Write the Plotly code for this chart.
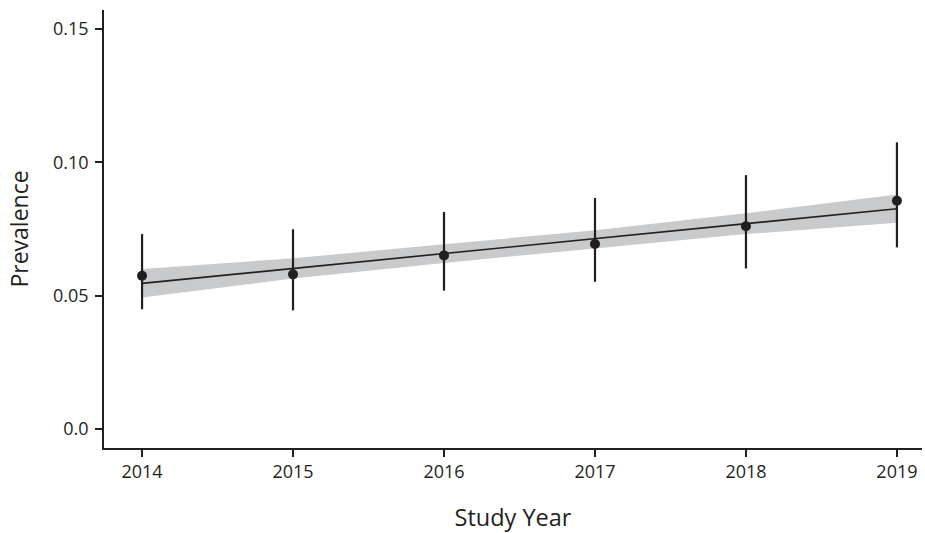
import plotly.graph_objects as go

years = [2014, 2015, 2016, 2017, 2018, 2019]
prevalence = [0.0575, 0.0580, 0.0651, 0.0694, 0.0760, 0.0856]
ci_upper = [0.0731, 0.0749, 0.0814, 0.0866, 0.0952, 0.1075]
ci_lower = [0.0449, 0.0445, 0.0519, 0.0552, 0.0602, 0.0681]
fit_line = [0.0546, 0.0602, 0.0658, 0.0714, 0.0770, 0.0826]
band_upper = [0.0600, 0.0640, 0.0693, 0.0745, 0.0809, 0.0879]
band_lower = [0.0493, 0.0564, 0.0623, 0.0676, 0.0731, 0.0773]
y_ticks = [0.0, 0.05, 0.10, 0.15]
y_tick_labels = ["0.0", "0.05", "0.10", "0.15"]

ink = "#231f20"
font = "Open Sans"

fig = go.Figure()
fig.add_trace(go.Scatter(x=years, y=band_lower, mode="lines", line=dict(width=0),
                         hoverinfo="skip", showlegend=False))
fig.add_trace(go.Scatter(x=years, y=band_upper, mode="lines", line=dict(width=0),
                         fill="tonexty", fillcolor="#c9cacb", hoverinfo="skip", showlegend=False))
fig.add_trace(go.Scatter(x=years, y=fit_line, mode="lines", line=dict(color=ink, width=1.6),
                         showlegend=False))
fig.add_trace(go.Scatter(
    x=years, y=prevalence, mode="markers",
    marker=dict(color=ink, size=10),
    error_y=dict(type="data", symmetric=False,
                 array=[u - p for u, p in zip(ci_upper, prevalence)],
                 arrayminus=[p - l for p, l in zip(prevalence, ci_lower)],
                 color=ink, thickness=2.2, width=0),
    showlegend=False))

fig.update_layout(
    width=925, height=533,
    margin=dict(l=104, r=3, t=10, b=85),
    paper_bgcolor="white", plot_bgcolor="white",
    font=dict(family=font, color=ink, size=18),
    xaxis=dict(range=[2013.748, 2019.166], tickvals=years, ticktext=[str(y) for y in years],
               showgrid=False, zeroline=False, showline=True, linecolor=ink, linewidth=1.5,
               ticks="outside", ticklen=7, tickwidth=1.5, tickcolor=ink,
               tickfont=dict(size=18, family=font, color=ink),
               title=dict(text="Study Year", font=dict(size=23.5, family=font, color=ink), standoff=28)),
    yaxis=dict(range=[-0.0071, 0.1571], tickvals=y_ticks, ticktext=y_tick_labels,
               showgrid=False, zeroline=False, showline=True, linecolor=ink, linewidth=1.5,
               ticks="outside", ticklen=7, tickwidth=1.5, tickcolor=ink, ticklabelstandoff=3,
               tickfont=dict(size=18, family=font, color=ink),
               title=dict(text="Prevalence", font=dict(size=23, family=font, color=ink), standoff=18)),
)

fig.write_html("out.html", config={"displayModeBar": False},
               post_script="document.body.style.margin='0';")
